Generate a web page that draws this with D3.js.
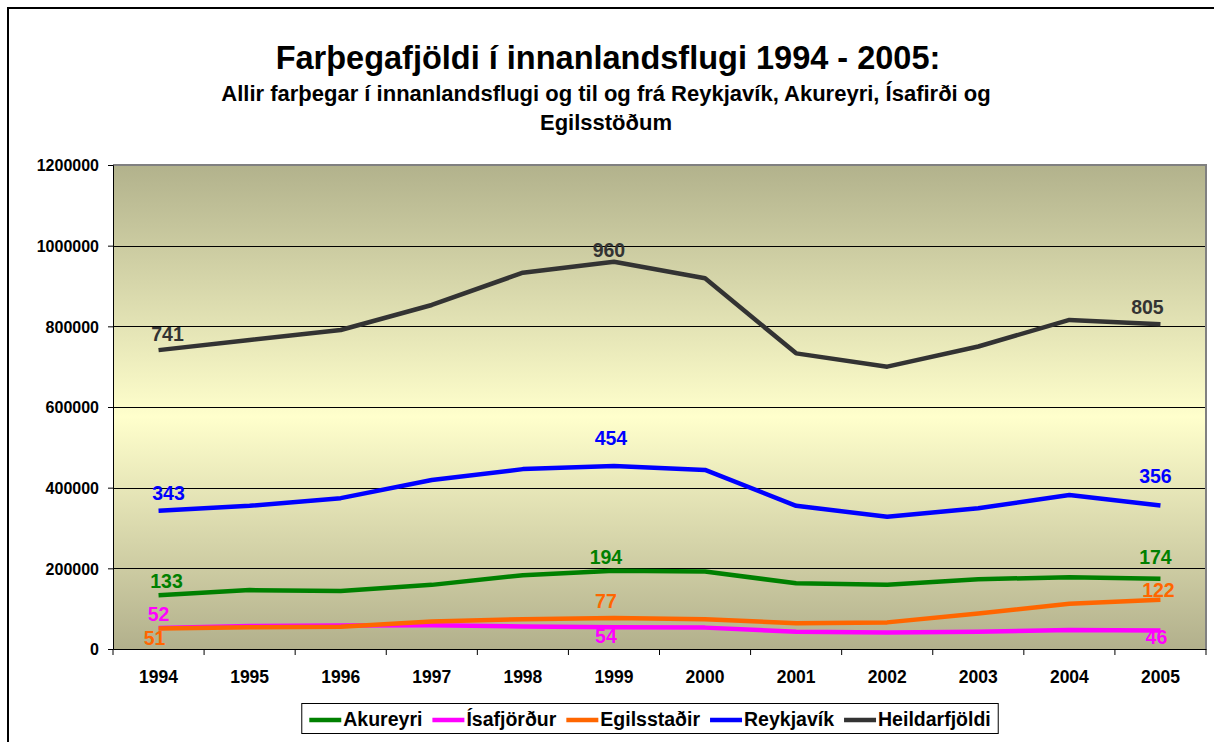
<!DOCTYPE html>
<html>
<head>
<meta charset="utf-8">
<script src="https://cdn.jsdelivr.net/npm/d3@7"></script>
<style>
  body { margin: 0; background: #fff; }
  text { font-family: "Liberation Sans", Arial, sans-serif; font-weight: bold; }
</style>
</head>
<body>
<div id="chart"></div>
<script>
const years = ["1994", "1995", "1996", "1997", "1998", "1999", "2000", "2001", "2002", "2003", "2004", "2005"]
const akureyri    = [133000, 146000, 144000, 159000, 183000, 194000, 192000, 163000, 159000, 173000, 178000, 174000]
const isafjordur  = [52000, 57000, 58000, 59000, 56000, 54000, 53000, 43000, 41000, 43000, 47000, 46000]
const egilsstadir = [51000, 54000, 55000, 68000, 74000, 77000, 74000, 64000, 66000, 88000, 112000, 122000]
const reykjavik   = [343000, 355000, 374000, 419000, 446000, 454000, 444000, 355000, 328000, 349000, 382000, 356000]
const heildar     = [741000, 766000, 791000, 853000, 933000, 960000, 919000, 733000, 700000, 750000, 816000, 805000]
const yTicks = [0, 200000, 400000, 600000, 800000, 1000000, 1200000]
const labelled = [0, 5, 11]   // years that carry a value label (in thousands)

const series = [
    { name: "Akureyri",      values: akureyri,    color: "#008000" },
    { name: "Ísafjörður",    values: isafjordur,  color: "#ff00ff" },
    { name: "Egilsstaðir",   values: egilsstadir, color: "#ff6600" },
    { name: "Reykjavík",     values: reykjavik,   color: "#0000ff" },
    { name: "Heildarfjöldi", values: heildar,     color: "#333333" }
]

// label nudges [dx, dy] from the point, per series, per labelled year
const LABEL_NUDGE = {
    "Akureyri":      [[8, -7], [-8, -7], [-5, -15]],
    "Ísafjörður":    [[0, -7], [-8, 16], [-4, 14]],
    "Egilsstaðir":   [[-4, 17], [-8, -10], [-2, -3]],
    "Reykjavík":     [[10, -11], [-3, -21], [-5, -22]],
    "Heildarfjöldi": [[9, -9], [-5, -5], [-13, -10]]
}

const W = 1214, H = 742
const PLOT = { LEFT: 113, TOP: 165, RIGHT: 1206, BOTTOM: 649 }

const svg = d3.select("#chart").append("svg")
    .attr("width", W)
    .attr("height", H)

// outer frame (only top and left edges are visible)
svg.append("rect")
    .attr("x", 8).attr("y", 8)
    .attr("width", W + 20).attr("height", H + 20)
    .attr("fill", "#fff")
    .attr("stroke", "#000")
    .attr("stroke-width", 2)

// titles
svg.append("text")
    .attr("x", 608).attr("y", 69)
    .attr("text-anchor", "middle")
    .attr("font-size", 32.5)
    .text("Farþegafjöldi í innanlandsflugi 1994 - 2005:")
svg.append("text")
    .attr("x", 606).attr("y", 101)
    .attr("text-anchor", "middle")
    .attr("font-size", 22)
    .text("Allir farþegar í innanlandsflugi og til og frá Reykjavík, Akureyri, Ísafirði og")
svg.append("text")
    .attr("x", 606).attr("y", 130)
    .attr("text-anchor", "middle")
    .attr("font-size", 22)
    .text("Egilsstöðum")

const x = d3.scaleBand()
    .domain(years)
    .range([PLOT.LEFT, PLOT.RIGHT])

const y = d3.scaleLinear()
    .domain([0, 1200000])
    .range([PLOT.BOTTOM, PLOT.TOP])

// plot background gradient
const grad = svg.append("defs").append("linearGradient")
    .attr("id", "bg")
    .attr("x1", 0).attr("y1", 0).attr("x2", 0).attr("y2", 1)
grad.append("stop").attr("offset", "0%").attr("stop-color", "#b2b28c")
grad.append("stop").attr("offset", "52%").attr("stop-color", "#ffffcc")
grad.append("stop").attr("offset", "100%").attr("stop-color", "#b2b08c")

svg.append("rect")
    .attr("x", PLOT.LEFT).attr("y", PLOT.TOP)
    .attr("width", PLOT.RIGHT - PLOT.LEFT)
    .attr("height", PLOT.BOTTOM - PLOT.TOP)
    .attr("fill", "url(#bg)")

// gridlines
svg.append("g")
    .selectAll("line")
    .data(yTicks.filter(d => d > 0 && d < 1200000))
    .enter().append("line")
        .attr("x1", PLOT.LEFT).attr("x2", PLOT.RIGHT)
        .attr("y1", d => Math.round(y(d)) + 0.5)
        .attr("y2", d => Math.round(y(d)) + 0.5)
        .attr("stroke", "#000")
        .attr("stroke-width", 1)

// plot border top / right
svg.append("path")
    .attr("d", `M${PLOT.LEFT},${PLOT.TOP}H${PLOT.RIGHT}V${PLOT.BOTTOM}`)
    .attr("fill", "none")
    .attr("stroke", "#808080")
    .attr("stroke-width", 2)

// y axis
const yAxis = svg.append("g")
    .attr("transform", `translate(${PLOT.LEFT},0)`)
    .call(d3.axisLeft(y).tickValues(yTicks).tickFormat(d3.format("d")).tickSize(5).tickPadding(9))
yAxis.select(".domain").attr("stroke", "#000")
yAxis.selectAll("text")
    .attr("font-size", 16)
    .attr("font-family", null)
    .attr("fill", "#000")
    .attr("dy", "0.36em")

// x axis, ticks between categories
const xAxis = svg.append("g")
    .attr("transform", `translate(0,${PLOT.BOTTOM})`)
    .call(d3.axisBottom(x).tickSize(0).tickPadding(22))
xAxis.select(".domain").attr("stroke", "#000")
xAxis.selectAll("text")
    .attr("font-size", 17.5)
    .attr("font-family", null)
    .attr("fill", "#000")
xAxis.selectAll(".between")
    .data(years.concat(["end"]))
    .enter().append("line")
        .attr("class", "between")
        .attr("x1", (d, i) => PLOT.LEFT + i * x.bandwidth())
        .attr("x2", (d, i) => PLOT.LEFT + i * x.bandwidth())
        .attr("y1", 0).attr("y2", 6)
        .attr("stroke", "#000")

// lines
const line = d3.line()
    .x((d, i) => x(years[i]) + x.bandwidth() / 2)
    .y(d => y(d))

series.forEach(s => {
    svg.append("path")
        .datum(s.values)
        .attr("d", line)
        .attr("fill", "none")
        .attr("stroke", s.color)
        .attr("stroke-width", 4.5)
        .attr("stroke-linejoin", "round")
})

// value labels
series.forEach(s => {
    labelled.forEach((idx, k) => {
        const nudge = LABEL_NUDGE[s.name][k]
        svg.append("text")
            .attr("x", x(years[idx]) + x.bandwidth() / 2 + nudge[0])
            .attr("y", y(s.values[idx]) + nudge[1])
            .attr("text-anchor", "middle")
            .attr("font-size", 19.5)
            .attr("fill", s.color)
            .text(Math.round(s.values[idx] / 1000))
    })
})

// legend
const legend = svg.append("g")
const legendBox = legend.append("rect")
    .attr("fill", "#fff")
    .attr("stroke", "#000")
    .attr("stroke-width", 1)
let cursor = 0
const items = legend.append("g")
series.forEach(s => {
    const g = items.append("g").attr("transform", `translate(${cursor},0)`)
    g.append("line")
        .attr("x1", 0).attr("x2", 32)
        .attr("y1", -6).attr("y2", -6)
        .attr("stroke", s.color)
        .attr("stroke-width", 4.5)
    const t = g.append("text")
        .attr("x", 34).attr("y", 0)
        .attr("font-size", 19.5)
        .text(s.name)
    cursor += 34 + t.node().getComputedTextLength() + 10
})
const legendW = cursor - 10
const legendX = 650 - legendW / 2
items.attr("transform", `translate(${legendX},726)`)
legendBox
    .attr("x", legendX - 7.5).attr("y", 703.5)
    .attr("width", legendW + 15).attr("height", 30)
</script>
</body>
</html>
